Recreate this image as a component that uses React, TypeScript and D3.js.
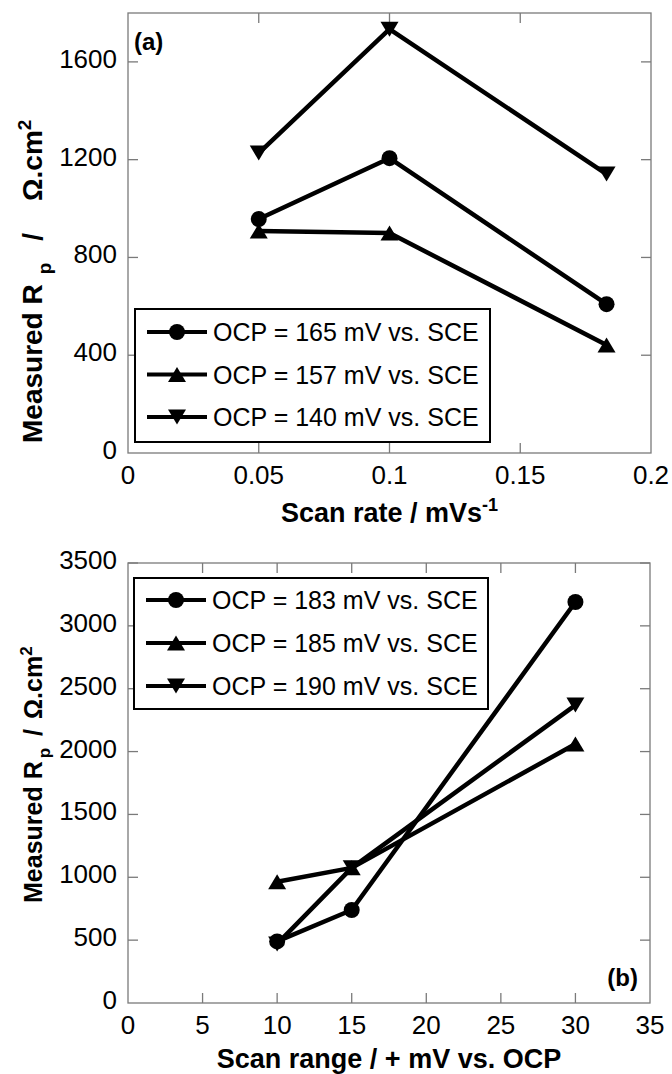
import React from "react";
import * as d3 from "d3";

// ---------- Data: panel (a) ----------
const scanRate = [0.05, 0.1, 0.183];
const rpOcp165 = [957, 1206, 609];
const rpOcp157 = [908, 900, 442];
const rpOcp140 = [1227, 1734, 1141];
const aXTicks = [0, 0.05, 0.1, 0.15, 0.2];
const aYTicks = [0, 400, 800, 1200, 1600];
const aLegend = ["OCP = 165 mV vs. SCE", "OCP = 157 mV vs. SCE", "OCP = 140 mV vs. SCE"];

// ---------- Data: panel (b) ----------
const scanRange = [10, 15, 30];
const rpOcp183 = [490, 740, 3190];
const rpOcp185 = [965, 1075, 2060];
const rpOcp190 = [470, 1075, 2370];
const bXTicks = [0, 5, 10, 15, 20, 25, 30, 35];
const bYTicks = [0, 500, 1000, 1500, 2000, 2500, 3000, 3500];
const bLegend = ["OCP = 183 mV vs. SCE", "OCP = 185 mV vs. SCE", "OCP = 190 mV vs. SCE"];

const markerKinds = ["circle", "up", "down"];
const FONT = "'Liberation Sans', Arial, Helvetica, sans-serif";

function Marker({ kind, x, y }: { kind: string; x: number; y: number }) {
  if (kind === "circle") return <circle cx={x} cy={y} r={8} fill="#000" />;
  const w = 18, h = 15;
  const pts =
    kind === "up"
      ? [[x - w / 2, y + h / 2], [x + w / 2, y + h / 2], [x, y - h / 2]]
      : [[x - w / 2, y - h / 2], [x + w / 2, y - h / 2], [x, y + h / 2]];
  return <path d={`M${pts.map((p) => p.join(",")).join("L")}Z`} fill="#000" />;
}

function Panel(props: {
  left: number; right: number; top: number; bottom: number;
  xDomain: [number, number]; yDomain: [number, number];
  xTicks: number[]; yTicks: number[];
  xs: number[]; series: number[][]; legend: string[];
  legendBox: { x: number; y: number; w: number; h: number; first: number; step: number };
  xTitle: React.ReactNode; xTitleY: number;
  tag: string; tagX: number; tagY: number; tagAnchor: string;
  yTitleX: number; yTitleStart: number; yTitleSize: number; yTitleGaps: number[];
}) {
  const { left, right, top, bottom } = props;
  const x = d3.scaleLinear().domain(props.xDomain).range([left, right]);
  const y = d3.scaleLinear().domain(props.yDomain).range([bottom, top]);
  const line = d3.line<[number, number]>().x((d) => x(d[0])).y((d) => y(d[1]));
  const frame = "#7a7a7a";
  const tl = 10;
  const lb = props.legendBox;
  const ts = props.yTitleSize;
  const sub = Math.round(ts * 0.68);
  const g = props.yTitleGaps;
  return (
    <g>
      <rect x={left} y={top} width={right - left} height={bottom - top} fill="none" stroke={frame} strokeWidth={1.3} />
      {props.xTicks.slice(1, -1).map((t) => (
        <g key={"xt" + t}>
          <line x1={x(t)} x2={x(t)} y1={bottom} y2={bottom - tl} stroke={frame} strokeWidth={1.3} />
          <line x1={x(t)} x2={x(t)} y1={top} y2={top + tl} stroke={frame} strokeWidth={1.3} />
        </g>
      ))}
      {props.yTicks.slice(1).map((t) => (
        <g key={"yt" + t}>
          <line x1={left} x2={left + tl} y1={y(t)} y2={y(t)} stroke={frame} strokeWidth={1.3} />
          <line x1={right} x2={right - tl} y1={y(t)} y2={y(t)} stroke={frame} strokeWidth={1.3} />
        </g>
      ))}
      {props.xTicks.map((t) => (
        <text key={"xl" + t} x={x(t)} y={bottom + 31} textAnchor="middle" fontSize={26} fontFamily={FONT} fill="#000">
          {String(t)}
        </text>
      ))}
      {props.yTicks.map((t) => (
        <text key={"yl" + t} x={left - 11} y={y(t) + 6} textAnchor="end" fontSize={26} fontFamily={FONT} fill="#000">
          {String(t)}
        </text>
      ))}
      {props.series.map((s, i) => (
        <g key={"s" + i}>
          <path d={line(props.xs.map((xv, j) => [xv, s[j]] as [number, number])) || ""} fill="none" stroke="#000" strokeWidth={4.5} strokeLinejoin="round" />
          {props.xs.map((xv, j) => (
            <Marker key={j} kind={markerKinds[i]} x={x(xv)} y={y(s[j])} />
          ))}
        </g>
      ))}
      <rect x={lb.x} y={lb.y} width={lb.w} height={lb.h} fill="#fff" stroke="#000" strokeWidth={2} />
      {props.legend.map((name, i) => {
        const ly = lb.first + i * lb.step;
        return (
          <g key={"lg" + i}>
            <line x1={lb.x + 12} x2={lb.x + 72} y1={ly} y2={ly} stroke="#000" strokeWidth={4} />
            <Marker kind={markerKinds[i]} x={lb.x + 42} y={ly} />
            <text x={lb.x + 78} y={ly + 9} fontSize={25} fontFamily={FONT} fill="#000">{name}</text>
          </g>
        );
      })}
      <text x={(left + right) / 2} y={props.xTitleY} textAnchor="middle" fontSize={27} fontWeight="bold" fontFamily={FONT} fill="#000">
        {props.xTitle}
      </text>
      <text transform={`translate(${props.yTitleX},${props.yTitleStart}) rotate(-90)`} textAnchor="start" fontSize={ts} fontWeight="bold" fontFamily={FONT} fill="#000">
        <tspan>Measured R</tspan>
        <tspan dx={g[0]} dy={ts * 0.33} fontSize={sub}>p</tspan>
        <tspan dx={g[1]} dy={-ts * 0.33}>/</tspan>
        <tspan dx={g[2]}>Ω.cm</tspan>
        <tspan dy={-ts * 0.4} fontSize={sub}>2</tspan>
      </text>
      <text x={props.tagX} y={props.tagY} textAnchor={props.tagAnchor as any} fontSize={24} fontWeight="bold" fontFamily={FONT} fill="#000">
        {props.tag}
      </text>
    </g>
  );
}

export default function App() {
  return (
    <svg width={672} height={1074} style={{ position: "absolute", left: 0, top: 0, background: "#fff" }}>
      <rect x={0} y={0} width={672} height={1074} fill="#fff" />
      <Panel
        left={128} right={651} top={13} bottom={453}
        xDomain={[0, 0.2]} yDomain={[0, 1800]}
        xTicks={aXTicks} yTicks={aYTicks}
        xs={scanRate} series={[rpOcp165, rpOcp157, rpOcp140]} legend={aLegend}
        legendBox={{ x: 135, y: 309, w: 355, h: 133, first: 332, step: 42.5 }}
        xTitle={<><tspan>Scan rate / mVs</tspan><tspan dy={-11} fontSize={18}>-1</tspan></>}
        xTitleY={522}
        tag="(a)" tagX={134} tagY={50} tagAnchor="start"
        yTitleX={42} yTitleStart={443} yTitleSize={28} yTitleGaps={[10, 22, 32]}
      />
      <Panel
        left={128} right={650} top={563} bottom={1003}
        xDomain={[0, 35]} yDomain={[0, 3500]}
        xTicks={bXTicks} yTicks={bYTicks}
        xs={scanRange} series={[rpOcp183, rpOcp185, rpOcp190]} legend={bLegend}
        legendBox={{ x: 134, y: 578, w: 354, h: 131, first: 600, step: 43 }}
        xTitle={<tspan>Scan range / + mV vs. OCP</tspan>}
        xTitleY={1068}
        tag="(b)" tagX={638} tagY={986} tagAnchor="end"
        yTitleX={42} yTitleStart={903} yTitleSize={25} yTitleGaps={[3, 12, 10]}
      />
    </svg>
  );
}
